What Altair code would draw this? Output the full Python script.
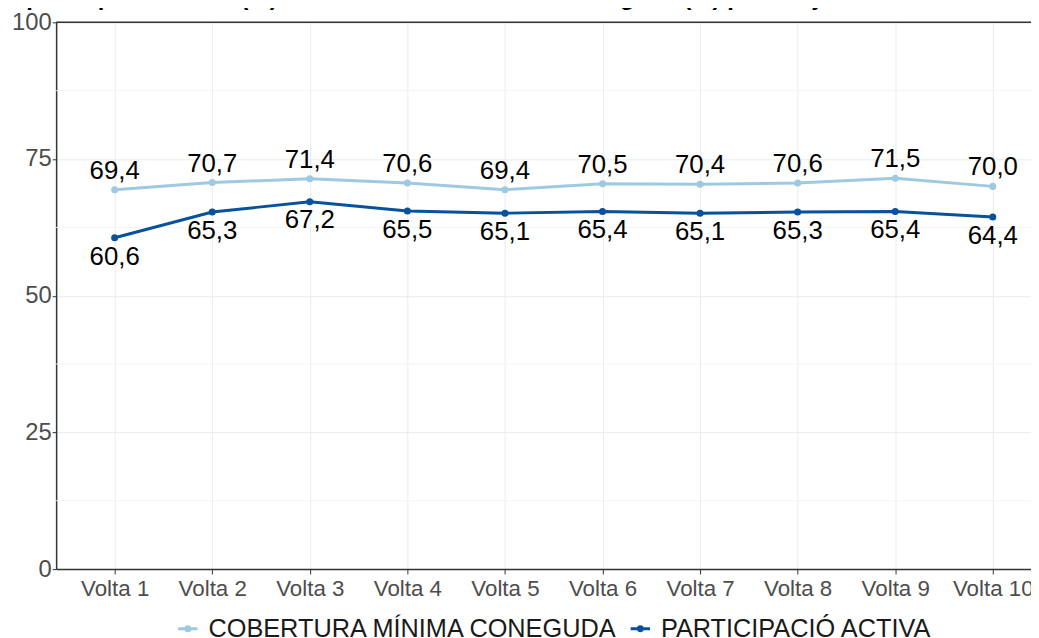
import altair as alt
import pandas as pd

voltes = ["Volta 1", "Volta 2", "Volta 3", "Volta 4", "Volta 5",
          "Volta 6", "Volta 7", "Volta 8", "Volta 9", "Volta 10"]
cobertura = [69.4, 70.7, 71.4, 70.6, 69.4, 70.5, 70.4, 70.6, 71.5, 70.0]
participacio = [60.6, 65.3, 67.2, 65.5, 65.1, 65.4, 65.1, 65.3, 65.4, 64.4]
series_names = ["COBERTURA MÍNIMA CONEGUDA", "PARTICIPACIÓ ACTIVA"]
series_colors = ["#9ECAE1", "#08519C"]
y_ticks = [0, 25, 50, 75, 100]
minor_ticks = [12.5, 37.5, 62.5, 87.5]
title_text = "Evolució de la participació activa (%) i de la cobertura mínima coneguda (%) per subjecte actiu"

FONT = "Liberation Sans"

rows = []
for v, c, p in zip(voltes, cobertura, participacio):
    rows.append({"volta": v, "serie": series_names[0], "valor": c,
                 "label": f"{c:.1f}".replace(".", ",")})
    rows.append({"volta": v, "serie": series_names[1], "valor": p,
                 "label": f"{p:.1f}".replace(".", ",")})
df = pd.DataFrame(rows)

W, H = 982.5, 551
FULL_W = 1003

x_scale = alt.Scale(type="point", padding=0.6, range=[0, FULL_W])
x_enc = alt.X("volta:N", sort=voltes, scale=x_scale,
              axis=alt.Axis(title=None, labelFontSize=22.5, labelColor="#4D4D4D",
                            labelFont=FONT, labelPadding=4, labelAngle=0,
                            domainColor="#333333",
                            domainWidth=1.5, tickColor="#333333", tickSize=5,
                            grid=True, gridColor="#EBEBEB", gridWidth=1))
y_scale = alt.Scale(domain=[0, 100], nice=False, zero=True)
y_enc = alt.Y("valor:Q", scale=y_scale,
              axis=alt.Axis(title=None, values=y_ticks, labelFontSize=24,
                            labelColor="#4D4D4D", labelFont=FONT, labelPadding=1,
                            domainColor="#333333", domainWidth=1.5,
                            tickColor="#333333", tickSize=4, grid=True,
                            gridColor="#EBEBEB", gridWidth=1))
color_enc = alt.Color("serie:N", sort=series_names,
                      scale=alt.Scale(domain=series_names, range=series_colors),
                      legend=alt.Legend(title=None, orient="none", direction="horizontal",
                                        legendX=120, legendY=598,
                                        labelFontSize=25.5, labelFont=FONT,
                                        labelColor="#1A1A1A", symbolStrokeWidth=3,
                                        labelLimit=0,
                                        symbolType="M-1,0L1,0M-0.2,0a0.2,0.2 0 1,0 0.4,0a0.2,0.2 0 1,0 -0.4,0",
                                        symbolSize=380, columnPadding=6,
                                        labelOffset=8))

minor = alt.Chart(pd.DataFrame({"m": minor_ticks})).mark_rule(
    color="#F4F4F4", strokeWidth=1).encode(y=alt.Y("m:Q", scale=y_scale))

top_rule = alt.Chart(pd.DataFrame({"t": [100]})).mark_rule(
    color="#333333", strokeWidth=1.5).encode(y=alt.Y("t:Q", scale=y_scale))

lines = alt.Chart(df).mark_line(strokeWidth=3).encode(
    x=x_enc, y=y_enc, color=color_enc)

points = alt.Chart(df).mark_point(filled=True, size=50, opacity=1, shape="circle").encode(
    x=alt.X("volta:N", sort=voltes), y=alt.Y("valor:Q"),
    color=alt.Color("serie:N", legend=None))

lab_top = alt.Chart(df[df.serie == series_names[0]]).mark_text(
    dy=-19, fontSize=26, font=FONT, color="black", baseline="middle").encode(
    x=alt.X("volta:N", sort=voltes), y=alt.Y("valor:Q"), text="label:N")

lab_bot = alt.Chart(df[df.serie == series_names[1]]).mark_text(
    dy=19, fontSize=26, font=FONT, color="black", baseline="middle").encode(
    x=alt.X("volta:N", sort=voltes), y=alt.Y("valor:Q"), text="label:N")

title = alt.Chart(pd.DataFrame({"t": [title_text]})).mark_text(
    fontSize=24, font=FONT, fontWeight="bold", color="black", align="left",
    baseline="alphabetic").encode(text="t:N", x=alt.value(-198), y=alt.value(-17))

chart = alt.layer(minor, top_rule, lines, points, lab_top, lab_bot, title).properties(
    width=W, height=H,
    autosize=alt.AutoSizeParams(type="none"),
    padding={"left": 48.5, "top": 12, "right": 0, "bottom": 69},
).configure_view(stroke=None).configure(background="white")

chart.save("out.html", embed_options={"renderer": "svg", "actions": False})
